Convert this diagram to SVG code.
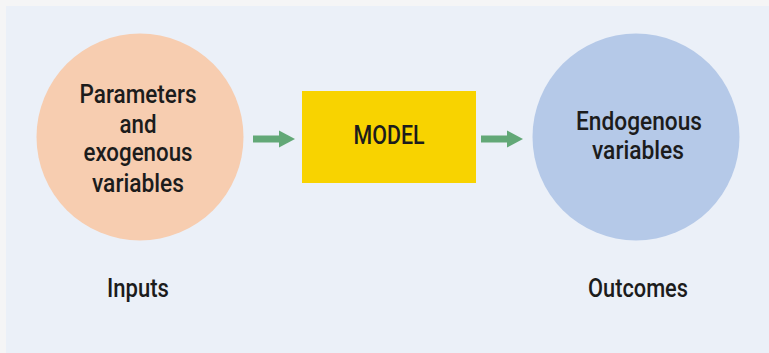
<svg xmlns="http://www.w3.org/2000/svg" width="769" height="353" viewBox="0 0 769 353">
<defs>
<style>
.lbl{font-family:"Roboto","Liberation Sans","Arial",sans-serif;font-weight:500;font-size:26px;fill:#1c1c1c;text-anchor:middle}
.stack{font-size:25px}
.arr{fill:#62a877}
</style>
<marker id="head" markerUnits="userSpaceOnUse" markerWidth="16" markerHeight="18" refX="1" refY="9" orient="auto">
<path d="M0,0.5 L16,9 L0,17.5 Z" class="arr"/>
</marker>
</defs>
<rect x="0" y="0" width="769" height="353" fill="#f5f5f6"/>
<rect x="6" y="6" width="763" height="347" fill="#ebf0f8"/>
<g id="connectors">
<line x1="253" y1="139" x2="280" y2="139" stroke="#62a877" stroke-width="7" marker-end="url(#head)"/>
<line x1="481" y1="139" x2="508" y2="139" stroke="#62a877" stroke-width="7" marker-end="url(#head)"/>
</g>
<g id="inputs-node">
<circle cx="140" cy="137" r="103.5" fill="#f7cdb0"/>
<text class="lbl stack" x="138" y="103" textLength="117" lengthAdjust="spacingAndGlyphs">Parameters</text>
<text class="lbl stack" x="138" y="133" textLength="37" lengthAdjust="spacingAndGlyphs">and</text>
<text class="lbl stack" x="138" y="161" textLength="109" lengthAdjust="spacingAndGlyphs">exogenous</text>
<text class="lbl stack" x="138" y="192" textLength="92" lengthAdjust="spacingAndGlyphs">variables</text>
</g>
<g id="model-node">
<rect x="302" y="91" width="174" height="92" fill="#f8d300"/>
<text class="lbl" x="389" y="144" font-size="28" textLength="71" lengthAdjust="spacingAndGlyphs">MODEL</text>
</g>
<g id="outcomes-node">
<circle cx="636" cy="137" r="103.5" fill="#b5c9e8"/>
<text class="lbl stack" x="639" y="130" textLength="126" lengthAdjust="spacingAndGlyphs">Endogenous</text>
<text class="lbl stack" x="638" y="159" textLength="92" lengthAdjust="spacingAndGlyphs">variables</text>
</g>
<g id="inputs-label">
<text class="lbl" x="138" y="297" textLength="62" lengthAdjust="spacingAndGlyphs">Inputs</text>
</g>
<g id="outcomes-label">
<text class="lbl" x="638" y="297" textLength="100" lengthAdjust="spacingAndGlyphs">Outcomes</text>
</g>
</svg>
